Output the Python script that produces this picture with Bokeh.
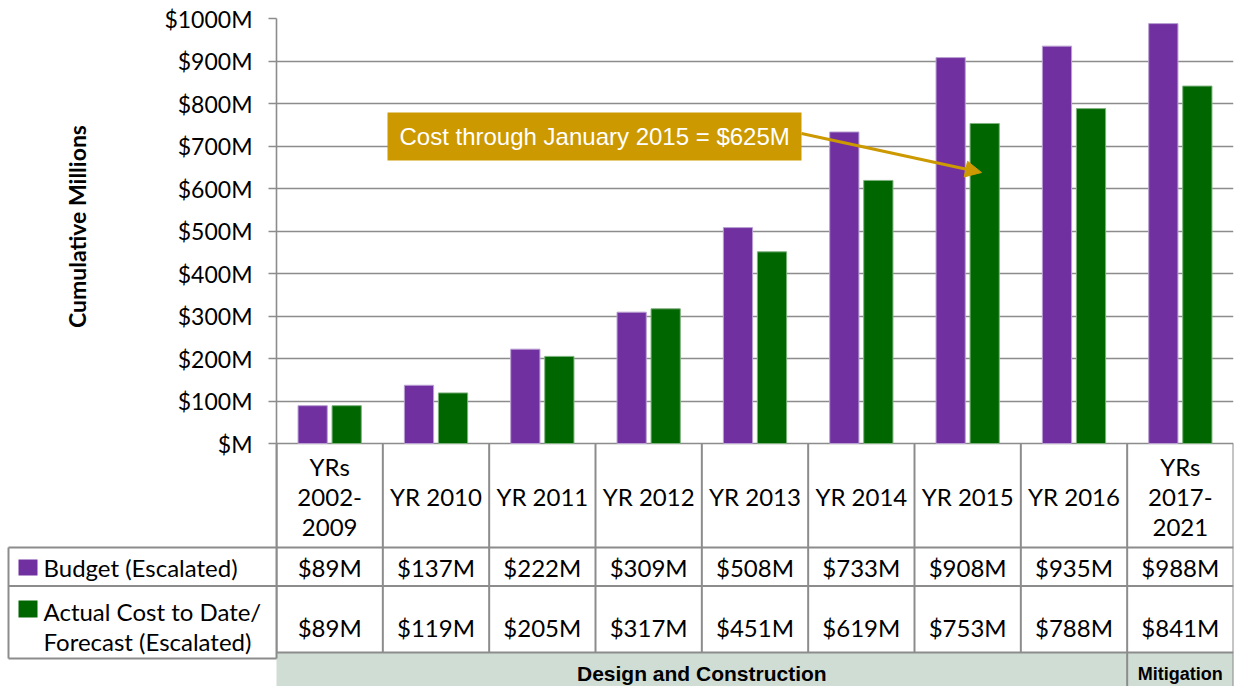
import math
from bokeh.plotting import figure
from bokeh.models import ColumnDataSource, FactorRange, Range1d, FixedTicker, Arrow, NormalHead
from bokeh.transform import dodge
from bokeh.core.properties import value
from bokeh.embed import file_html
from bokeh.resources import INLINE

# ---------------- data ----------------
categories = ["YRs 2002-2009", "YR 2010", "YR 2011", "YR 2012", "YR 2013",
              "YR 2014", "YR 2015", "YR 2016", "YRs 2017-2021"]
category_labels = ["YRs\n2002-\n2009", "YR 2010", "YR 2011", "YR 2012", "YR 2013",
                   "YR 2014", "YR 2015", "YR 2016", "YRs\n2017-\n2021"]
budget = [89, 137, 222, 309, 508, 733, 908, 935, 988]
actual = [89, 119, 205, 317, 451, 619, 753, 788, 841]
series_names = ["Budget (Escalated)", "Actual Cost to Date/\nForecast (Escalated)"]
y_ticks = [0, 100, 200, 300, 400, 500, 600, 700, 800, 900, 1000]
y_tick_labels = ["$M", "$100M", "$200M", "$300M", "$400M", "$500M",
                 "$600M", "$700M", "$800M", "$900M", "$1000M"]
y_title = "Cumulative Millions"
phase_names = ["Design and Construction", "Mitigation"]
phase_sizes = [8, 1]
note_text = "Cost through January 2015 = $625M"

PURPLE = "#7030A0"
GREEN = "#006600"
GOLD = "#CC9900"
GRID = "#8C8C8C"
BAND = "#D0DDD5"
FONT = "Lato"
ARIAL = "Liberation Sans"

# ---------------- layout constants (page pixels) ----------------
W, H = 1235, 686
LEFT, RIGHT = 276, 1233
TOP, ZERO = 18, 443
ppu = (ZERO - TOP) / 1000.0
n = len(categories)
upx = (RIGHT - LEFT) / n


def yv(px):
    return (ZERO - px) / ppu


def ux(px):
    return (px - LEFT) / upx


src = ColumnDataSource(dict(cat=categories, budget=budget, actual=actual))

p = figure(width=W, height=H, x_range=FactorRange(factors=categories),
           y_range=Range1d(yv(H), 1000), output_backend="svg", toolbar_location=None,
           x_axis_location=None, min_border_left=LEFT, min_border_right=W - RIGHT,
           min_border_top=TOP, min_border_bottom=0)
p.outline_line_color = None
p.xgrid.visible = False
p.ygrid.ticker = FixedTicker(ticks=y_ticks)
p.ygrid.grid_line_color = GRID
p.ygrid.grid_line_width = 1.6

ax = p.yaxis[0]
ax.ticker = FixedTicker(ticks=y_ticks)
ax.bounds = (0, 1000)
ax.major_label_overrides = {t: l for t, l in zip(y_ticks, y_tick_labels)}
ax.axis_line_color = GRID
ax.axis_line_width = 1.6
ax.major_tick_line_color = GRID
ax.major_tick_line_width = 1.6
ax.major_tick_out = 8
ax.major_tick_in = 0
ax.minor_tick_line_color = None
ax.major_label_standoff = 16
ax.major_label_text_font = FONT
ax.major_label_text_font_size = "23px"
ax.major_label_text_color = "black"

# ---------------- bars ----------------
p.vbar(x=dodge("cat", -0.16, range=p.x_range), top="budget", width=0.275, source=src,
       fill_color=PURPLE, line_color="#B9A0D2", line_width=1)
p.vbar(x=dodge("cat", 0.16, range=p.x_range), top="actual", width=0.275, source=src,
       fill_color=GREEN, line_color="#7FB27F", line_width=1)

# ---------------- callout ----------------
p.quad(left=[ux(387)], right=[ux(801)], top=[yv(112)], bottom=[yv(160)],
       fill_color=GOLD, line_color=None)
p.text(x=[ux(399)], y=[yv(136)], text=[note_text], text_font=value(ARIAL),
       text_font_size="24px", text_color="white", text_baseline="middle", text_align="left")
p.add_layout(Arrow(x_start=ux(801), y_start=yv(133), x_end=ux(981), y_end=yv(172),
                   line_color=GOLD, line_width=3,
                   end=NormalHead(size=16, fill_color=GOLD, line_color=GOLD)))

# ---------------- data table under the chart ----------------
xc = [i + 0.5 for i in range(n)]
LEG = ux(8)
ROW1, ROW2, TBOT, BAND_TOP = yv(547), yv(585.5), yv(658), yv(652)

# band
p.quad(left=[ux(274)], right=[n], top=[BAND_TOP], bottom=[yv(H + 3)], fill_color=BAND,
       line_color=GRID, line_width=2)
# grid of the table (inside chart columns)
vx = list(range(0, n + 1))
p.segment(x0=vx, x1=vx, y0=[0] * (n + 1), y1=[BAND_TOP] * (n + 1), line_color=GRID, line_width=2)
p.segment(x0=[0, 0], x1=[n, n], y0=[ROW1, ROW2], y1=[ROW1, ROW2], line_color=GRID, line_width=2)

# phase separators and names
ends = []
acc = 0
for s in phase_sizes:
    acc += s
    ends.append(acc)
starts = [e - s for e, s in zip(ends, phase_sizes)]
mids = [(a + b) / 2 for a, b in zip(starts, ends)]
p.segment(x0=ends[:-1], x1=ends[:-1], y0=[BAND_TOP] * (len(ends) - 1), y1=[yv(H)] * (len(ends) - 1),
          line_color=GRID, line_width=2)
p.text(x=mids[:1], y=[yv(673)], text=phase_names[:1], text_font=value(ARIAL),
       text_font_style="bold", text_font_size="21px", text_align="center", text_baseline="middle")
p.text(x=mids[1:], y=[yv(673)], text=phase_names[1:], text_font=value(ARIAL),
       text_font_style="bold", text_font_size="18px", text_align="center", text_baseline="middle")

# category labels and values
p.text(x=xc, y=[yv(496)] * n, text=category_labels, text_font=value(FONT), text_font_size="24px",
       text_align="center", text_baseline="middle", text_line_height=1.04)
p.text(x=xc, y=[yv(567)] * n, text=["$%dM" % v for v in budget], text_font=value(FONT),
       text_font_size="24px", text_align="center", text_baseline="middle")
p.text(x=xc, y=[yv(627)] * n, text=["$%dM" % v for v in actual], text_font=value(FONT),
       text_font_size="24px", text_align="center", text_baseline="middle")

# legend column and y title (left of the chart frame, drawn at overlay level so not clipped)
r1 = p.segment(x0=[LEG, LEG, LEG, LEG], x1=[0, 0, 0, LEG], y0=[ROW1, ROW2, TBOT, ROW1],
               y1=[ROW1, ROW2, TBOT, TBOT], line_color=GRID, line_width=2)
r2 = p.segment(x0=[0], x1=[0], y0=[0], y1=[TBOT], line_color=GRID, line_width=2)
r3 = p.quad(left=[ux(18)] * 2, right=[ux(37)] * 2, top=[yv(559), yv(600)],
            bottom=[yv(575), yv(617)], fill_color=[PURPLE, GREEN], line_color=None)
r4 = p.text(x=[ux(43), ux(43)], y=[yv(567), yv(626)], text=series_names, text_font=value(FONT),
            text_font_size="24px", text_align="left", text_baseline="middle", text_line_height=1.04)
r5 = p.text(x=[ux(76)], y=[yv(226)], text=[y_title], angle=math.pi / 2, text_font=value(FONT),
            text_font_style="bold", text_font_size="23px", text_align="center",
            text_baseline="middle")
for r in (r1, r2, r3, r4, r5):
    r.level = "overlay"

open("out.html", "w").write(file_html(p, INLINE))
